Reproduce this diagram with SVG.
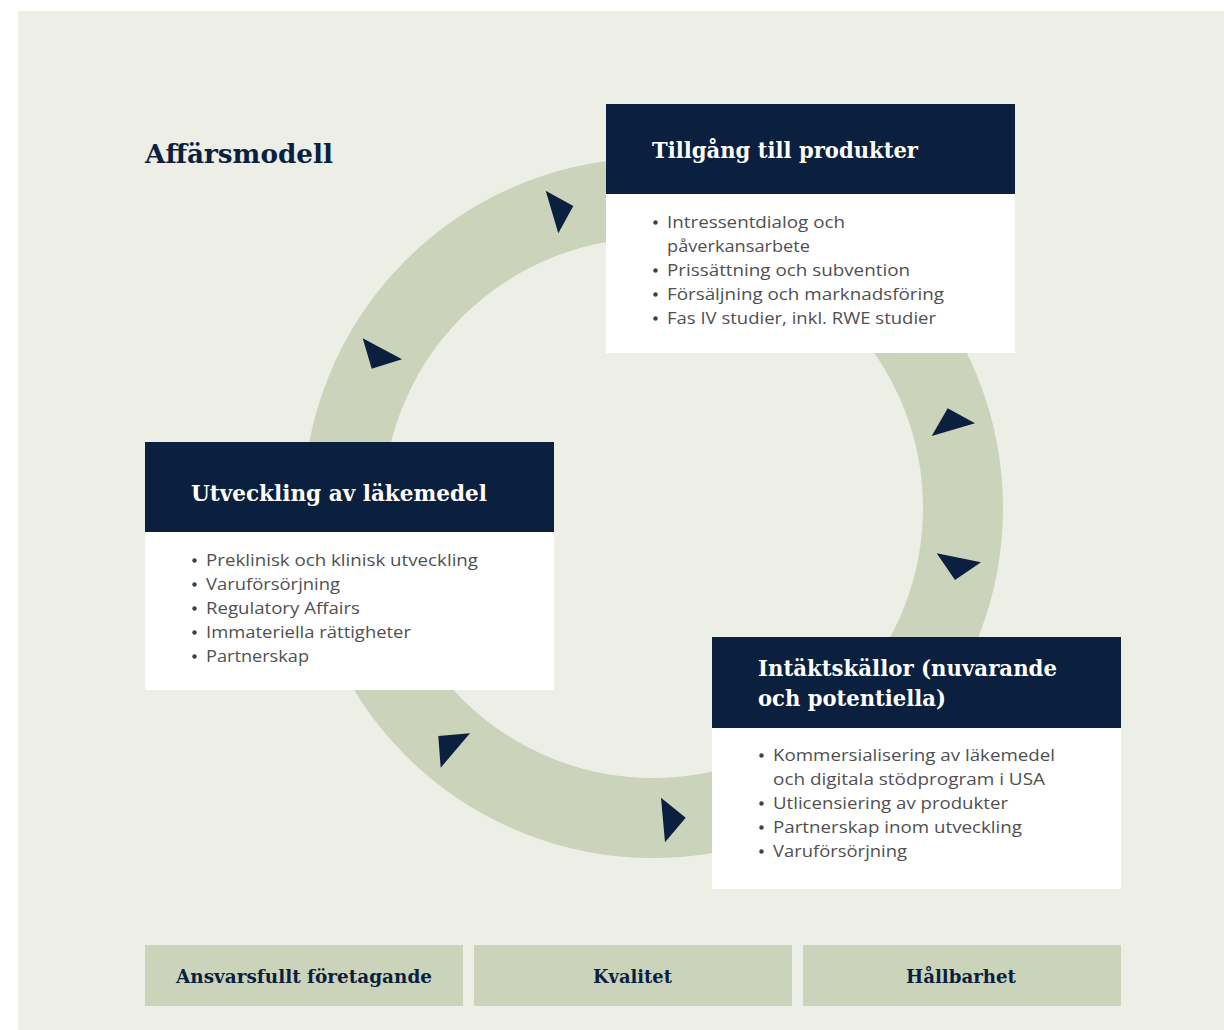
<svg xmlns="http://www.w3.org/2000/svg" width="1224" height="1030" viewBox="0 0 1224 1030">
<style>
.hd{font-family:"DejaVu Serif","Liberation Serif",serif;font-weight:bold;fill:#ffffff;font-size:23px}
.ttl{font-family:"DejaVu Serif","Liberation Serif",serif;font-weight:bold;fill:#0b1f3e;font-size:26px}
.bt{font-family:"Open Sans","Liberation Sans",sans-serif;fill:#505050;font-size:17px}
.bar{font-family:"DejaVu Serif","Liberation Serif",serif;font-weight:bold;fill:#0b1f3e;font-size:19px}
.navy{fill:#0b1f3e}
.white{fill:#ffffff}
.sage{fill:#cbd3bb}
.dot{fill:#404040}
</style>
<rect x="0" y="0" width="1224" height="1030" fill="#ffffff"/>
<rect x="18" y="11" width="1206" height="1019" fill="#edeee6"/>
<g id="ring">
<circle cx="653" cy="508" r="310" fill="none" stroke="#cbd3bb" stroke-width="80"/>
</g>
<g id="connectors">
<polygon class="navy" points="545.7,190.7 573.3,206 558.3,233.3"/>
<polygon class="navy" points="362.7,338.3 402,359.3 371.7,368.7"/>
<polygon class="navy" points="947.7,408.3 975,423.3 931.7,436"/>
<polygon class="navy" points="936.7,553.3 981,562.3 955,580"/>
<polygon class="navy" points="438.3,736 470,733.3 440.7,767.7"/>
<polygon class="navy" points="661,797.7 685.7,817.7 665,842.3"/>
</g>
<g id="title">
<text class="ttl" x="145" y="163" textLength="188" lengthAdjust="spacingAndGlyphs">Affärsmodell</text>
</g>
<g id="node-tillgang">
<rect class="navy" x="606" y="104" width="409" height="90"/>
<rect class="white" x="606" y="194" width="409" height="159"/>
<text class="hd" x="652" y="158" textLength="266" lengthAdjust="spacingAndGlyphs">Tillgång till produkter</text>
<circle class="dot" cx="655.5" cy="222.5" r="2.2"/>
<text class="bt" x="667" y="228" textLength="178" lengthAdjust="spacingAndGlyphs">Intressentdialog och</text>
<text class="bt" x="667" y="252" textLength="143" lengthAdjust="spacingAndGlyphs">påverkansarbete</text>
<circle class="dot" cx="655.5" cy="270.5" r="2.2"/>
<text class="bt" x="667" y="276" textLength="243" lengthAdjust="spacingAndGlyphs">Prissättning och subvention</text>
<circle class="dot" cx="655.5" cy="294.5" r="2.2"/>
<text class="bt" x="667" y="300" textLength="277" lengthAdjust="spacingAndGlyphs">Försäljning och marknadsföring</text>
<circle class="dot" cx="655.5" cy="318.5" r="2.2"/>
<text class="bt" x="667" y="324" textLength="269" lengthAdjust="spacingAndGlyphs">Fas IV studier, inkl. RWE studier</text>
</g>
<g id="node-utveckling">
<rect class="navy" x="145" y="442" width="409" height="90"/>
<rect class="white" x="145" y="532" width="409" height="158"/>
<text class="hd" x="191" y="501" textLength="296" lengthAdjust="spacingAndGlyphs">Utveckling av läkemedel</text>
<circle class="dot" cx="194.5" cy="560.5" r="2.2"/>
<text class="bt" x="206" y="566" textLength="272" lengthAdjust="spacingAndGlyphs">Preklinisk och klinisk utveckling</text>
<circle class="dot" cx="194.5" cy="584.5" r="2.2"/>
<text class="bt" x="206" y="590" textLength="134" lengthAdjust="spacingAndGlyphs">Varuförsörjning</text>
<circle class="dot" cx="194.5" cy="608.5" r="2.2"/>
<text class="bt" x="206" y="614" textLength="154" lengthAdjust="spacingAndGlyphs">Regulatory Affairs</text>
<circle class="dot" cx="194.5" cy="632.5" r="2.2"/>
<text class="bt" x="206" y="638" textLength="205" lengthAdjust="spacingAndGlyphs">Immateriella rättigheter</text>
<circle class="dot" cx="194.5" cy="656.5" r="2.2"/>
<text class="bt" x="206" y="662" textLength="103" lengthAdjust="spacingAndGlyphs">Partnerskap</text>
</g>
<g id="node-intakter">
<rect class="navy" x="712" y="637" width="409" height="91"/>
<rect class="white" x="712" y="728" width="409" height="161"/>
<text class="hd" x="758" y="676" textLength="299" lengthAdjust="spacingAndGlyphs">Intäktskällor (nuvarande</text>
<text class="hd" x="758" y="706" textLength="188" lengthAdjust="spacingAndGlyphs">och potentiella)</text>
<circle class="dot" cx="761.5" cy="755.5" r="2.2"/>
<text class="bt" x="773" y="761" textLength="282" lengthAdjust="spacingAndGlyphs">Kommersialisering av läkemedel</text>
<text class="bt" x="773" y="785" textLength="272" lengthAdjust="spacingAndGlyphs">och digitala stödprogram i USA</text>
<circle class="dot" cx="761.5" cy="803.5" r="2.2"/>
<text class="bt" x="773" y="809" textLength="235" lengthAdjust="spacingAndGlyphs">Utlicensiering av produkter</text>
<circle class="dot" cx="761.5" cy="827.5" r="2.2"/>
<text class="bt" x="773" y="833" textLength="249" lengthAdjust="spacingAndGlyphs">Partnerskap inom utveckling</text>
<circle class="dot" cx="761.5" cy="851.5" r="2.2"/>
<text class="bt" x="773" y="857" textLength="134" lengthAdjust="spacingAndGlyphs">Varuförsörjning</text>
</g>
<g id="bar-ansvar">
<rect class="sage" x="145" y="945" width="318" height="61"/>
<text class="bar" x="176" y="983" textLength="256" lengthAdjust="spacingAndGlyphs">Ansvarsfullt företagande</text>
</g>
<g id="bar-kvalitet">
<rect class="sage" x="474" y="945" width="318" height="61"/>
<text class="bar" x="593" y="983" textLength="79" lengthAdjust="spacingAndGlyphs">Kvalitet</text>
</g>
<g id="bar-hallbarhet">
<rect class="sage" x="803" y="945" width="318" height="61"/>
<text class="bar" x="906" y="983" textLength="110" lengthAdjust="spacingAndGlyphs">Hållbarhet</text>
</g>
</svg>
